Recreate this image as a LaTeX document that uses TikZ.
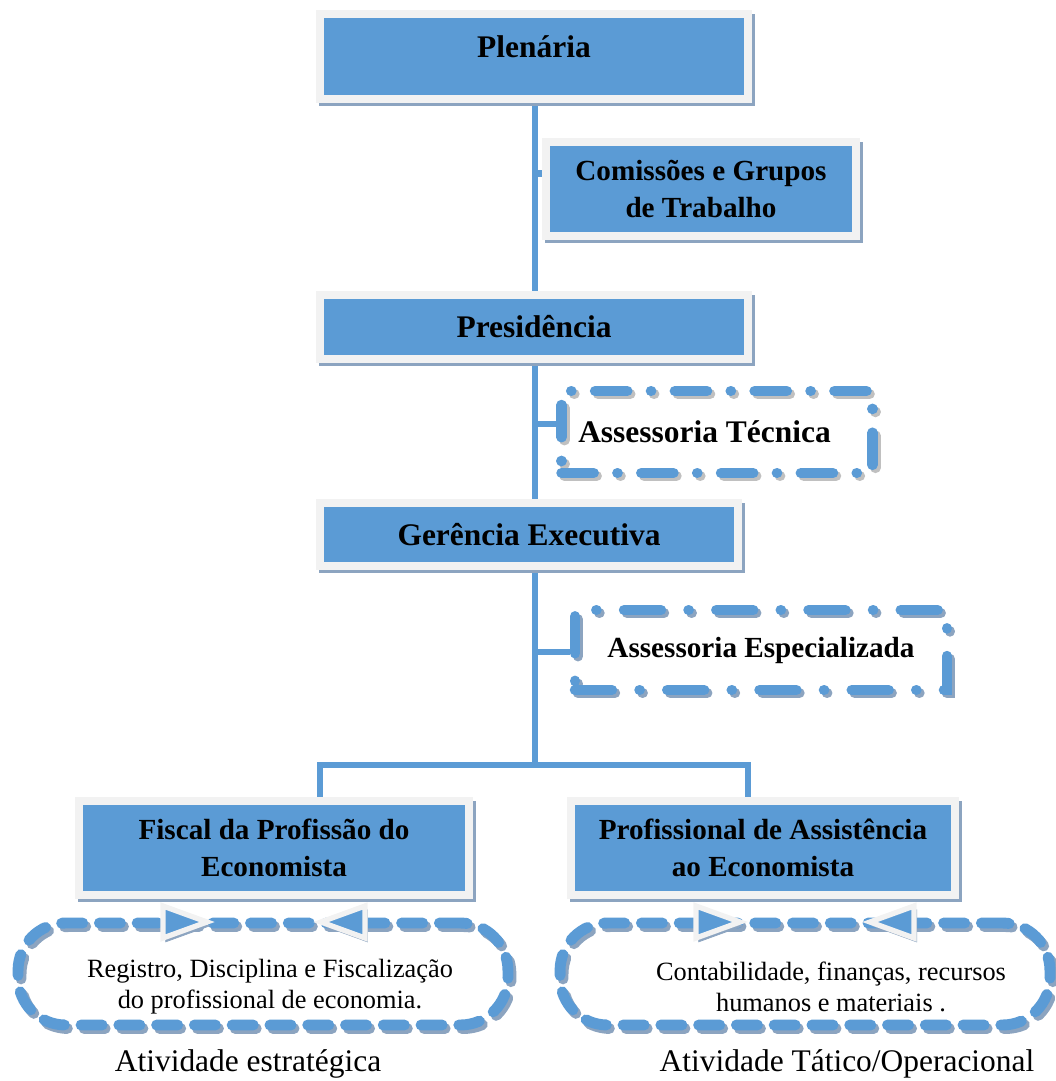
\documentclass[tikz,border=0pt]{standalone}
\usepackage{fontspec}
\setmainfont{Liberation Serif}
\usetikzlibrary{backgrounds}
\definecolor{boxblue}{RGB}{91,155,213}
\definecolor{framegray}{RGB}{242,242,242}
\definecolor{shadowblue}{RGB}{140,164,192}
\definecolor{shadowgray}{RGB}{192,192,192}
\newcommand{\unitfont}{\bfseries\fontsize{17.9}{21}\selectfont}
\newcommand{\subfont}{\bfseries\fontsize{16.6}{21}\selectfont}
\newcommand{\notefont}{\fontsize{15}{17.6}\selectfont}
\newcommand{\capfont}{\fontsize{17.9}{21}\selectfont}
\tikzset{
  unitbox/.style={rectangle, fill=boxblue, draw=framegray, line width=4.5pt, inner sep=0pt, align=center,
    preaction={fill=shadowblue, draw=shadowblue, transform canvas={shift={(1.8pt,-2pt)}}}},
  advbox/.style={rectangle, draw=boxblue, line width=6pt, line cap=round, inner sep=0pt, align=center,
    preaction={draw=#1, transform canvas={shift={(1.7pt,-1.7pt)}}}},
  cyclebox/.style={rectangle, rounded corners=0.95cm, draw=boxblue, line width=6.2pt, line cap=round,
    dash pattern=on 12pt off 9.5pt,
    preaction={draw=shadowblue, transform canvas={shift={(1.7pt,-2pt)}}}},
  tipmark/.style={fill=boxblue, draw=framegray, line width=3pt, line join=miter,
    preaction={fill=shadowblue, draw=shadowblue, transform canvas={shift={(1.5pt,-2.2pt)}}}},
  link/.style={draw=boxblue, line width=3.7pt}
}
\begin{document}
\begin{tikzpicture}[x=0.02cm, y=-0.02cm]
\useasboundingbox (0,0) rectangle (1055,1081);
\node[unitbox, minimum width=8.56cm, minimum height=1.70cm, font=\unitfont, text depth=0.38cm] (plen) at (534,56.5) {Plenária};
\node[unitbox, minimum width=6.20cm, minimum height=1.88cm, font=\subfont] (comis) at (701,189) {Comissões e Grupos\\de Trabalho};
\node[unitbox, minimum width=8.56cm, minimum height=1.27cm, font=\unitfont] (pres) at (534,327) {Presidência};
\node[advbox=shadowgray, dash pattern=on 18.3pt off 13.5pt on 0.1pt off 13.5pt, minimum width=6.22cm, minimum height=1.64cm, font=\unitfont] (tecn) at (717,432) {Assessoria Técnica\hspace{0.5cm}};
\node[unitbox, minimum width=8.36cm, minimum height=1.26cm, font=\unitfont] (ger) at (529,534.5) {Gerência Executiva};
\node[advbox=shadowblue, dash pattern=on 21pt off 15.7pt on 0.1pt off 15.7pt, minimum width=7.44cm, minimum height=1.60cm, font=\subfont] (espec) at (761,650) {Assessoria Especializada};
\node[unitbox, minimum width=7.80cm, minimum height=1.87cm, font=\subfont] (fisc) at (274,848) {Fiscal da Profissão do\\Economista};
\node[unitbox, minimum width=7.68cm, minimum height=1.87cm, font=\subfont] (prof) at (763,848) {Profissional de Assistência\\ao Economista};
\node[cyclebox, minimum width=9.8cm, minimum height=2.04cm] (cycl) at (263,974) {};
\node[cyclebox, minimum width=9.8cm, minimum height=2.04cm] (cycr) at (805,974) {};
\node[font=\notefont, align=center] (cyclnote) at (270,987) {Registro, Disciplina e Fiscalização\\do profissional de economia.};
\node[font=\notefont, align=center] (cycrnote) at (831,987) {Contabilidade, finanças, recursos\\humanos e materiais .};
\draw[tipmark] (163,906) -- (207,922) -- (163,938) -- cycle;
\draw[tipmark] (365,906) -- (321,922) -- (365,938) -- cycle;
\draw[tipmark] (696,906) -- (740,922) -- (696,938) -- cycle;
\draw[tipmark] (914,906) -- (870,922) -- (914,938) -- cycle;
\node[font=\capfont] (capl) at (248,1064) {Atividade estratégica};
\node[font=\capfont] (capr) at (847,1064) {Atividade Tático/Operacional};
\coordinate (split) at (535,765);
\coordinate (lbar) at (320,765);
\coordinate (rbar) at (748,765);
\begin{scope}[on background layer]
\draw[link] (plen.south -| split) -- (split);
\draw[link] ([yshift=0.31cm]comis.west) -- ([yshift=0.31cm]comis.west -| split);
\draw[link] ([yshift=0.16cm]tecn.west) -- ([yshift=0.16cm]tecn.west -| split);
\draw[link] ([yshift=-0.04cm]espec.west) -- ([yshift=-0.04cm]espec.west -| split);
\draw[link] (lbar |- fisc.north) -- (lbar) -- (rbar) -- (rbar |- prof.north);
\end{scope}
\end{tikzpicture}
\end{document}
